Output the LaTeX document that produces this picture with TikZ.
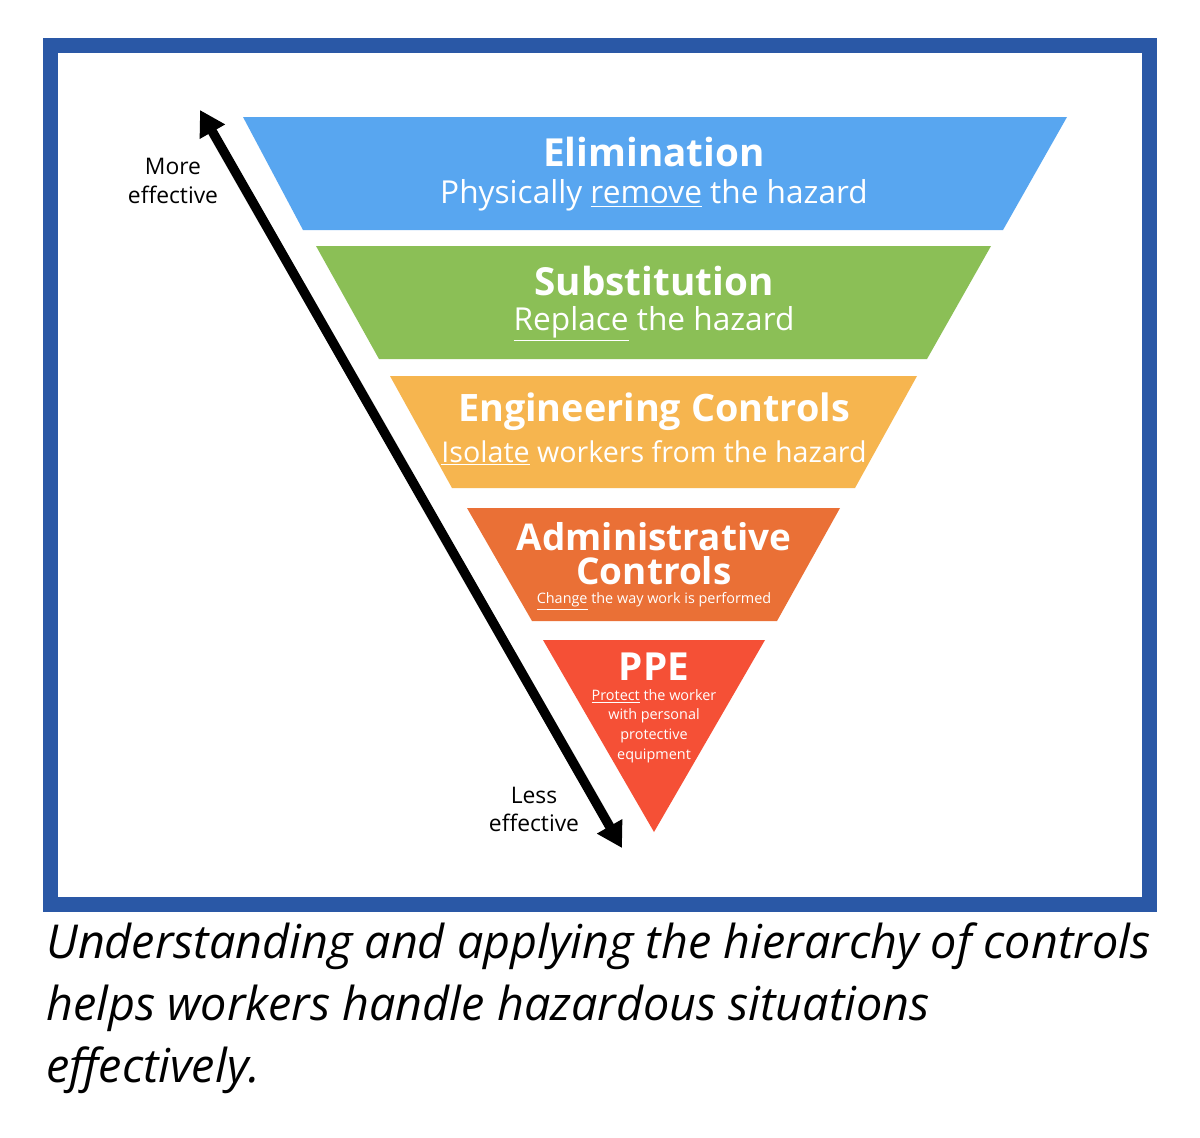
\documentclass[tikz,border=0pt]{standalone}
\usepackage{fontspec}
\setmainfont{Open Sans}
\usetikzlibrary{arrows.meta}
\definecolor{frameblue}{HTML}{2A58A6}
\definecolor{c1}{HTML}{58A6F0}
\definecolor{c2}{HTML}{8BBF56}
\definecolor{c3}{HTML}{F6B54F}
\definecolor{c4}{HTML}{EA7036}
\definecolor{c5}{HTML}{F55036}
\begin{document}
\begin{tikzpicture}[x=0.02cm,y=-0.02cm,
  title/.style={text=white,font=\bfseries\fontsize{22}{24}\selectfont,align=center},
  sub/.style={text=white,font=\fontsize{18}{21}\selectfont,align=center},
  small/.style={text=white,font=\fontsize{8.2}{11.2}\selectfont,align=center,inner sep=0},
  lab/.style={font=\fontsize{13}{16}\selectfont,align=center}]
\useasboundingbox (0,0) rectangle (1200,1137);
\fill[white] (0,0) rectangle (1200,1137);
\draw[frameblue,line width=0.3cm] (50.5,45.5) rectangle (1149.5,904.5);
\fill[c1] (243,117) -- (1067,117) -- (1003,230) -- (303,230) -- cycle;
\fill[c2] (316,246) -- (991,246) -- (927,359) -- (379,359) -- cycle;
\fill[c3] (390,376) -- (917,376) -- (855,488) -- (452,488) -- cycle;
\fill[c4] (467,508) -- (840,508) -- (777,621) -- (532,621) -- cycle;
\fill[c5] (543,640) -- (765,640) -- (654,832) -- cycle;
\node[title] (t1) at (654,152) {Elimination};
\node[sub] (s1) at (654,195) {Physically \underline{remove} the hazard};
\node[title] (t2) at (654,281) {Substitution};
\node[sub] (s2) at (654,324) {\underline{Replace} the hazard};
\node[title,font=\bfseries\fontsize{21.5}{24}\selectfont] (t3) at (654,412) {Engineering Controls};
\node[sub,font=\fontsize{16.3}{20}\selectfont] (s3) at (654,453) {\underline{Isolate} workers from the hazard};
\node[title,font=\bfseries\fontsize{21}{19.5}\selectfont] (t4) at (654,554) {Administrative\\Controls};
\node[small] (s4) at (654,601) {\underline{Change} the way work is performed};
\node[title] (t5) at (654,667) {PPE};
\node[small] (s5) at (654,726) {\underline{Protect} the worker\\with personal\\protective\\equipment};
\coordinate (a) at (200,110);
\coordinate (b) at (622,848);
\draw[line width=0.19cm,{Triangle[length=0.5cm,width=0.55cm]}-{Triangle[length=0.5cm,width=0.55cm]}] (a) -- (b);
\node[lab] (more) at (173,181) {More\\effective};
\node[lab] (less) at (534,809) {Less\\effective};
\node[anchor=north west,align=left,font=\itshape\fontsize{26.6}{35.5}\selectfont,inner sep=0] (cap) at (46,922) {Understanding and applying the hierarchy of controls\\helps workers handle hazardous situations\\effectively.};
\end{tikzpicture}
\end{document}
